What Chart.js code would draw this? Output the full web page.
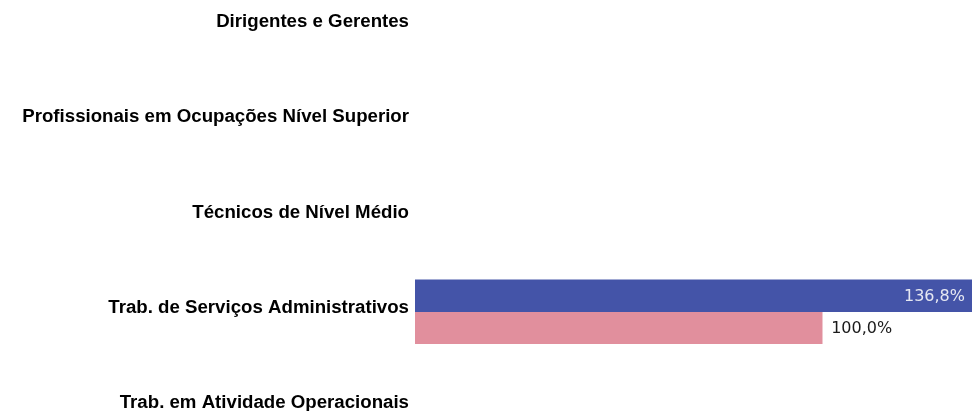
<!DOCTYPE html>
<html>
<head>
<meta charset="utf-8">
<script src="https://cdn.jsdelivr.net/npm/chart.js@4.4.1/dist/chart.umd.min.js"></script>
<style>
  html, body { margin: 0; padding: 0; background: #ffffff; overflow: hidden; width: 972px; height: 411px; }
  #wrap { position: absolute; left: 0; top: 0; width: 972px; height: 440px; }
</style>
</head>
<body>
<div id="wrap"><canvas id="chart"></canvas></div>
<script>
// ---- Data ----
const categories = [
  'Dirigentes e Gerentes',
  'Profissionais em Ocupações Nível Superior',
  'Técnicos de Nível Médio',
  'Trab. de Serviços Administrativos',
  'Trab. em Atividade Operacionais'
];
const seriesBlue = [null, null, null, 136.8, null];
const seriesPink = [null, null, null, 100.0, null];
const seriesNames = ['Série 1', 'Série 2'];

// ---- Styles ----
const blueColor = '#4454A8';
const pinkColor = '#E18F9D';

function fmtPct(v) {
  return v.toFixed(1).replace('.', ',') + '%';
}

const dataLabelPlugin = {
  id: 'dataLabelPlugin',
  afterDatasetsDraw(chart) {
    const ctx = chart.ctx;
    ctx.save();
    ctx.font = '16px "DejaVu Sans", Verdana, sans-serif';
    ctx.textBaseline = 'middle';
    chart.data.datasets.forEach((ds, di) => {
      const meta = chart.getDatasetMeta(di);
      meta.data.forEach((bar, i) => {
        const v = ds.data[i];
        if (v === null || v === undefined) return;
        const txt = fmtPct(v);
        if (di === 0) {
          ctx.fillStyle = '#E6E8F2';
          ctx.textAlign = 'right';
          ctx.fillText(txt, bar.x - 7, bar.y + 1);
        } else {
          ctx.fillStyle = '#1a1a1a';
          ctx.textAlign = 'left';
          ctx.fillText(txt, bar.x + 9, bar.y + 1);
        }
      });
    });
    ctx.restore();
  }
};

new Chart(document.getElementById('chart'), {
  type: 'bar',
  data: {
    labels: categories,
    datasets: [
      { label: seriesNames[0], data: seriesBlue, backgroundColor: blueColor, borderWidth: 0, barThickness: 32 },
      { label: seriesNames[1], data: seriesPink, backgroundColor: pinkColor, borderWidth: 0, barThickness: 32 }
    ]
  },
  options: {
    indexAxis: 'y',
    responsive: true,
    maintainAspectRatio: false,
    animation: false,
    devicePixelRatio: 1,
    layout: { padding: { top: 26, bottom: 33, left: 0, right: 0 } },
    plugins: {
      legend: { display: false },
      tooltip: { enabled: false },
      title: { display: false }
    },
    scales: {
      x: { type: 'linear', display: false, min: 0, max: 136.8 },
      y: {
        type: 'category',
        offset: false,
        grid: { display: false, drawTicks: false },
        border: { display: false },
        ticks: {
          padding: 6,
          labelOffset: -4,
          color: '#000000',
          font: { family: '"Liberation Sans", Arial, sans-serif', size: 18.67, weight: 'bold', lineHeight: 1.2 }
        },
        afterFit(scale) { scale.width = 415; }
      }
    }
  },
  plugins: [dataLabelPlugin]
});
</script>
</body>
</html>
